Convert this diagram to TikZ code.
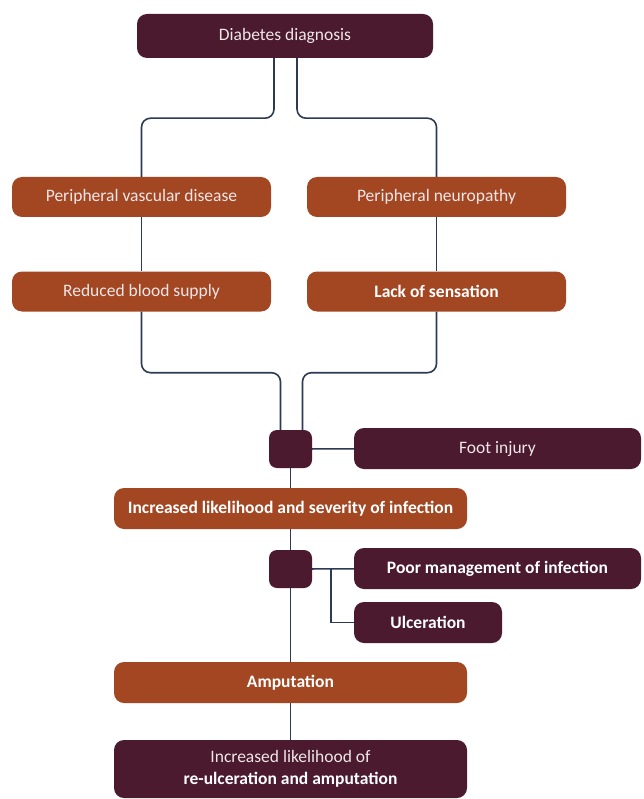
\documentclass[tikz,border=0pt]{standalone}
\usepackage{fontspec}
\setmainfont{Carlito}
\usepackage{tikz}
\usetikzlibrary{positioning,calc}
\definecolor{FootPlum}{HTML}{4B1A2E}
\definecolor{FootRust}{HTML}{A34723}
\definecolor{FootLine}{HTML}{2C3A54}
\definecolor{FootText}{HTML}{EFE6E8}

\begin{document}
\begin{tikzpicture}[
    x=1pt, y=-1pt,
    every node/.style={rounded corners=10pt, inner sep=4pt, align=center,
      font=\fontsize{17.5}{22}\selectfont, text=FootText},
    plum/.style={fill=FootPlum},
    rust/.style={fill=FootRust},
    heavy/.style={text=white, font=\fontsize{17.5}{22}\selectfont\bfseries},
    junction/.style={fill=FootPlum, rounded corners=8pt, minimum width=43pt, minimum height=38pt},
    wide/.style={minimum width=353pt, minimum height=41pt},
    half/.style={minimum width=259pt, minimum height=40pt},
    side/.style={minimum width=287pt, minimum height=41pt},
    link/.style={draw=FootLine, line width=1.6pt, rounded corners=9pt}
  ]
    \useasboundingbox (0,0) rectangle (643,799);

    % boxes
    \node[plum, minimum width=296pt, minimum height=44pt] (diag) at (285,36) {Diabetes diagnosis};

    \node[rust, half] (pvd) at (141.5,197) {Peripheral vascular disease};
    \node[rust, half] (neuro) at (436.5,197) {Peripheral neuropathy};
    \node[rust, half] (blood) at (141.5,291.5) {Reduced blood supply};
    \node[rust, half, heavy] (sense) at (436.5,291.5) {Lack of sensation};

    \node[junction] (hub1) at (290.5,449) {};
    \node[plum, side] (injury) at (497.5,448.5) {Foot injury};
    \node[rust, wide, heavy] (infect) at (290.5,508.5) {Increased likelihood and severity of infection};

    \node[junction] (hub2) at (290.5,569) {};
    \node[plum, side, heavy] (poor) at (497.5,568.5) {Poor management of infection};
    \node[plum, heavy, minimum width=148pt, minimum height=41pt] (ulcer) at (428,622.5) {Ulceration};

    \node[rust, wide, heavy] (amput) at (290.5,682.5) {Amputation};
    \node[plum, minimum width=353pt, minimum height=58pt] (reulcer) at (290.5,769)
      {Increased likelihood of\\{\color{white}\bfseries re-ulceration and amputation}};

    % connectors
    \draw[link] ([xshift=-11pt]diag.south) -- ++(0,60) -| (pvd.north);
    \draw[link] ([xshift=12pt]diag.south) -- ++(0,60) -| (neuro.north);
    \draw[link] (pvd) -- (blood);
    \draw[link] (neuro) -- (sense);
    \draw[link] (blood.south) -- ++(0,61) -| ([xshift=-10pt]hub1.north);
    \draw[link] (sense.south) -- ++(0,61) -| ([xshift=12pt]hub1.north);
    \draw[link] (hub1) -- (injury);
    \draw[link] (hub1) -- (infect);
    \draw[link] (infect) -- (hub2);
    \draw[link] (hub2) -- (poor);
    \coordinate (fork) at ([xshift=19pt]hub2.east);
    \draw[link, rounded corners=0pt] (fork) |- (ulcer.west);
    \draw[link] (hub2) -- (amput);
    \draw[link] (amput) -- (reulcer);
\end{tikzpicture}
\end{document}
